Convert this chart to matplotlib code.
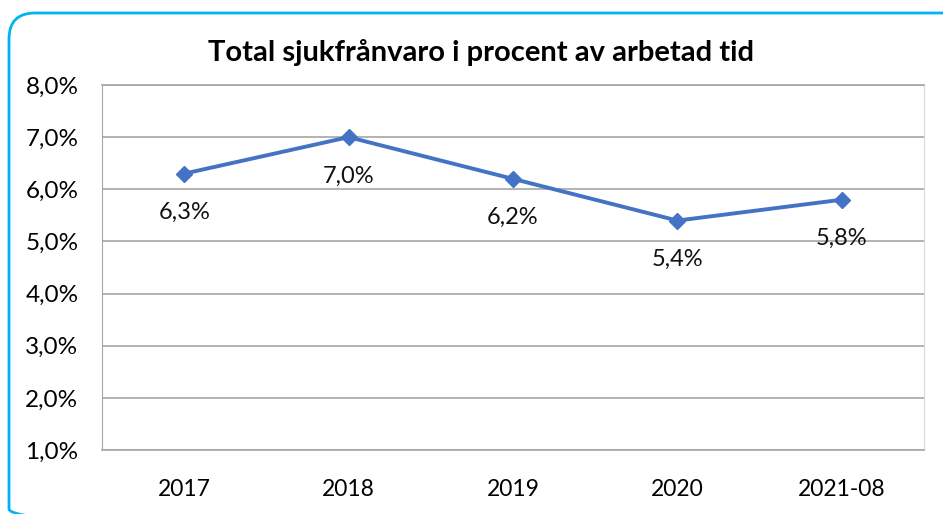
import matplotlib.pyplot as plt
from matplotlib.patches import FancyBboxPatch

categories = ['2017', '2018', '2019', '2020', '2021-08']
values = [6.3, 7.0, 6.2, 5.4, 5.8]
yticks = [1, 2, 3, 4, 5, 6, 7, 8]

plt.rcParams['font.family'] = ['Lato', 'DejaVu Sans']

fig = plt.figure(figsize=(9.43, 5.14), dpi=100)
W, H = 943, 514

# background axes in pixel units for the rounded cyan frame
bg = fig.add_axes([0, 0, 1, 1])
bg.set_xlim(0, W)
bg.set_ylim(H, 0)
bg.axis('off')
frame = FancyBboxPatch((9, 13), 960, 522,
                       boxstyle='round,pad=0,rounding_size=26',
                       fill=False, edgecolor='#00B4F0', linewidth=2)
bg.add_patch(frame)

ax = fig.add_axes([102 / W, 1 - 450 / H, (924 - 102) / W, (450 - 85) / H])
x = range(len(categories))
ax.plot(x, values, color='#4472C4', linewidth=2.8, marker='D', markersize=8)

for xi, v in zip(x, values):
    ax.annotate(f'{v:.1f}%'.replace('.', ','), (xi, v), xytext=(0, -28),
                textcoords='offset points', ha='center', va='center',
                fontsize=17, color='#111111')

ax.set_xlim(-0.5, len(categories) - 0.5)
ax.set_ylim(1, 8)
ax.set_xticks(list(x))
ax.set_xticklabels(categories, fontsize=16.5)
ax.set_yticks(yticks)
ax.set_yticklabels([f'{t},0%' for t in yticks], fontsize=17.5)
ax.tick_params(length=0)
ax.tick_params(axis='y', pad=17)
ax.tick_params(axis='x', pad=21)
ax.grid(axis='y', color='#A6A6A6', linewidth=1.2)
ax.set_axisbelow(True)
for side in ['top', 'bottom']:
    ax.spines[side].set_color('#A6A6A6')
    ax.spines[side].set_linewidth(1.2)
ax.spines['left'].set_color('#A6A6A6')
ax.spines['right'].set_color('#D9D9D9')

fig.text(481 / W, 1 - 53 / H, 'Total sjukfrånvaro i procent av arbetad tid',
         ha='center', va='center', fontsize=21, fontweight='bold')

fig.savefig('out.png', dpi=100)
